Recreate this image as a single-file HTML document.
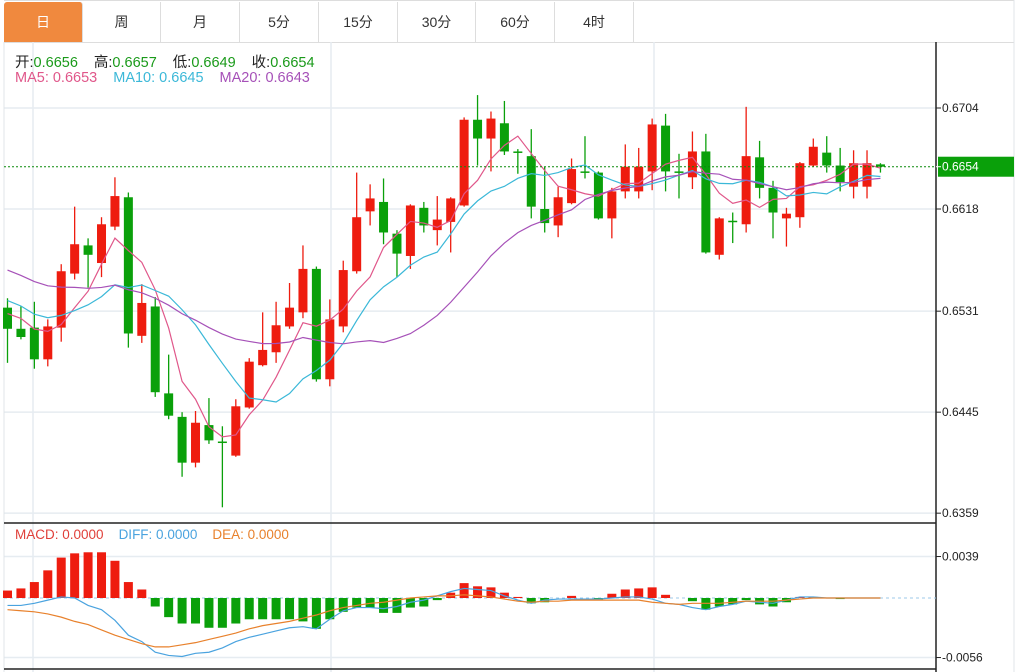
<!DOCTYPE html>
<html><head><meta charset="utf-8">
<style>
body{margin:0;width:1027px;height:672px;overflow:hidden;background:#fff;font-family:"Liberation Sans","Noto Sans CJK SC",sans-serif;}
#tabs{position:absolute;left:4px;top:0;width:1010px;height:41px;border-top:1px solid #ddd;border-bottom:1px solid #ddd;}
.tab{position:absolute;top:1px;height:40px;line-height:40px;text-align:center;font-size:14px;color:#333;border-right:1px solid #ddd;}
.tab.on{background:#f0893e;color:#fff;border-radius:3px 3px 0 0;}
svg{position:absolute;left:0;top:0;}
.gap{display:inline-block;width:16px;}
</style></head><body>
<div id="tabs">
<div class="tab on" style="left:0;width:78px">日</div>
<div class="tab" style="left:79px;width:77px">周</div>
<div class="tab" style="left:157px;width:78px">月</div>
<div class="tab" style="left:236px;width:78px">5分</div>
<div class="tab" style="left:315px;width:78px">15分</div>
<div class="tab" style="left:394px;width:77px">30分</div>
<div class="tab" style="left:472px;width:78px">60分</div>
<div class="tab" style="left:551px;width:78px">4时</div>
</div>
<svg id="chart" width="1027" height="672"></svg>
<script>
const opens=[6534,6516,6517,6490,6517,6563,6587,6572,6603,6628,6510,6535,6461,6441,6402,6434,6420,6408,6449,6485,6496,6518,6530,6567,6473,6518,6565,6616,6624,6597,6578,6619,6600,6607,6621,6694,6678,6691,6667,6663,6618,6604,6623,6650,6649,6610,6633,6633,6650,6689,6650,6645,6667,6579,6608,6605,6662,6636,6610,6611,6655,6666,6655,6637,6637,6656];
const closes=[6516,6509,6490,6518,6565,6588,6579,6605,6629,6512,6538,6462,6442,6402,6436,6421,6419,6450,6488,6498,6519,6534,6567,6473,6524,6566,6611,6627,6598,6580,6621,6604,6609,6627,6694,6678,6695,6667,6666,6620,6606,6628,6652,6649,6610,6633,6654,6654,6690,6650,6649,6667,6581,6610,6607,6663,6636,6615,6614,6657,6671,6655,6641,6657,6657,6654];
const highs=[6542,6535,6539,6524,6571,6620,6593,6611,6645,6632,6554,6543,6494,6445,6446,6457,6433,6456,6491,6530,6539,6555,6587,6569,6541,6574,6649,6639,6644,6600,6622,6624,6629,6628,6696,6715,6701,6710,6669,6686,6654,6637,6661,6680,6650,6636,6673,6670,6695,6699,6665,6684,6682,6611,6615,6705,6676,6642,6619,6658,6678,6680,6670,6668,6668,6657];
const lows=[6487,6507,6482,6484,6505,6558,6551,6560,6600,6500,6504,6458,6439,6390,6398,6418,6364,6407,6448,6484,6487,6516,6525,6471,6467,6513,6563,6604,6588,6560,6567,6598,6587,6581,6620,6655,6650,6664,6648,6610,6598,6594,6622,6644,6609,6593,6627,6627,6634,6633,6627,6635,6580,6575,6589,6598,6627,6593,6586,6602,6654,6649,6633,6627,6627,6649];
const priorCloses=[6600,6595,6590,6588,6592,6595,6590,6590,6590,6590,6555,6560,6548,6545,6547,6530,6535,6528,6536];
const priceTicks=["0.6704","0.6618","0.6531","0.6445","0.6359"];
const macdHist=[7,9,15,26,38,42,43,43,35,15,8,-8,-18,-24,-24,-28,-28,-24,-20,-20,-20,-20,-22,-29,-20,-13,-9,-9,-14,-14,-9,-8,-2,5,14,11,10,5,1,-5,-4,0,2,0,-2,4,8,9,10,3,0,-3,-11,-8,-6,-2,-6,-8,-4,1,1,0,-1,0,0,0];
const diffVals=[-7,-7,-5,-2,1,0,-7,-11,-21,-35,-41,-51,-54,-55,-52,-51,-47,-41,-37,-34,-31,-28,-27,-29,-20,-12,-9,-9,-10,-8,-4,-2,2,6,9,8,7,2,-2,-5,-2,-1,-1,-1,-1,0,1,1,-1,-5,-6,-9,-11,-8,-6,-3,-4,-5,-2,1,1,0,0,0,0,0];
const deaVals=[-11,-12,-13,-15,-18,-22,-25,-30,-35,-39,-43,-46,-46,-44,-42,-39,-36,-33,-29,-26,-24,-22,-19,-16,-12,-9,-7,-5,-4,-2,0,1,2,2,3,2,1,-1,-3,-4,-3,-3,-2,-2,-2,-2,-2,-2,-4,-5,-6,-5,-5,-5,-4,-3,-3,-3,-2,-1,0,0,0,0,0,0];
const macdTicks=["0.0039","-0.0056"];

const svg=document.getElementById('chart');
const NS='http://www.w3.org/2000/svg';
function mk(tag,at,parent){const e=document.createElementNS(NS,tag);for(const k in at)e.setAttribute(k,at[k]);(parent||svg).appendChild(e);return e;}
const xOf=i=>7.5+i*13.43;
const yP=p=>108+(0.6704-p/10000)*11744;
const yM=v=>598-(v/10000)*10632;

const grid=mk('g',{});


priceTicks.forEach(t=>{const y=yP(parseFloat(t)*10000);mk('line',{x1:4,x2:936,y1:y,y2:y,stroke:'#e6ecf1','stroke-width':1.5},grid);});
macdTicks.forEach(t=>{const y=yM(parseFloat(t)*10000);mk('line',{x1:4,x2:936,y1:y,y2:y,stroke:'#e6ecf1','stroke-width':1.5},grid);});
[33,331,654].forEach(x=>{mk('line',{x1:x,x2:x,y1:42,y2:672,stroke:'#e6ecf1','stroke-width':1.5},grid);});
mk('line',{x1:4,x2:4,y1:42,y2:672,stroke:'#e0e4e8'},grid);
mk('line',{x1:1014,x2:1014,y1:0,y2:672,stroke:'#e0e4e8'},grid);
mk('line',{x1:4,x2:936,y1:523,y2:523,stroke:'#222','stroke-width':1.5},grid);
mk('line',{x1:4,x2:936,y1:669,y2:669,stroke:'#222','stroke-width':1.5},grid);
mk('line',{x1:936,x2:936,y1:42,y2:672,stroke:'#222','stroke-width':1.5},grid);

const cg=mk('g',{});


opens.forEach((o,i)=>{
  const c=closes[i],up=c>o,col=up?'#ee1c0f':'#0aa00a',x=xOf(i);
  const g=mk('g',{},cg);
  
  
  mk('line',{x1:x,x2:x,y1:yP(highs[i]),y2:yP(lows[i]),stroke:col,'stroke-width':1.3},g);
  const t=yP(Math.max(o,c)),b=yP(Math.min(o,c));
  mk('rect',{x:x-4.5,y:t,width:9,height:Math.max(1.5,b-t),fill:col},g);
});

const all=priorCloses.concat(closes);
function ma(n){return closes.map((c,i)=>{let s=0;for(let k=0;k<n;k++)s+=all[i+priorCloses.length-k];return s/n;});}
[[5,'#e0578a','ma5-line'],[10,'#3bb8d8','ma10-line'],[20,'#a651b8','ma20-line']].forEach(([n,col,name])=>{
  const v=ma(n);
  const p=mk('polyline',{points:v.map((m,i)=>xOf(i)+','+yP(m)).join(' '),fill:'none',stroke:col,'stroke-width':1.2});
  
  
});

const lp=mk('line',{x1:4,x2:936,y1:yP(closes[closes.length-1]),y2:yP(closes[closes.length-1]),stroke:'#0a8a0a','stroke-dasharray':'2,2'});



priceTicks.forEach(t=>{const y=yP(parseFloat(t)*10000);
  mk('line',{x1:936,x2:941,y1:y,y2:y,stroke:'#222'});
  const e=mk('text',{x:942,y:y+4,'font-size':12,fill:'#222'});e.textContent=t;
  
  
});
const ly=yP(closes[closes.length-1]);
const lb=mk('rect',{x:938,y:ly-10,width:76,height:20,fill:'#0aa00a'});


mk('line',{x1:936,x2:941,y1:ly,y2:ly,stroke:'#fff'});
const lt=mk('text',{x:942,y:ly+4,'font-size':12,fill:'#fff'});lt.textContent=(closes[closes.length-1]/10000).toFixed(4);



mk('line',{x1:4,x2:936,y1:598,y2:598,stroke:'#9cc8e8','stroke-dasharray':'3,3'});
const mg=mk('g',{});


macdHist.forEach((v,i)=>{
  if(v===0)return;
  const y0=yM(0),y1=yM(v);
  const r=mk('rect',{x:xOf(i)-4.5,y:Math.min(y0,y1),width:9,height:Math.abs(y1-y0),fill:v>0?'#ee1c0f':'#0aa00a'},mg);
  
  
});
[[diffVals,'#4aa3df','diff-line'],[deaVals,'#e8812c','dea-line']].forEach(([arr,col,name])=>{
  const p=mk('polyline',{points:arr.map((v,i)=>xOf(i)+','+yM(v)).join(' '),fill:'none',stroke:col,'stroke-width':1.2});
  
  
});
macdTicks.forEach(t=>{const y=yM(parseFloat(t)*10000);
  mk('line',{x1:936,x2:941,y1:y,y2:y,stroke:'#222'});
  const e=mk('text',{x:942,y:y+4,'font-size':12,fill:'#222'});e.textContent=t;
  
  
});
</script>
<div style="position:absolute;left:15px;top:51px;font-size:14.5px;color:#222;white-space:nowrap">开:<span style="color:#1a9a1a">0.6656</span><span class="gap"></span>高:<span style="color:#1a9a1a">0.6657</span><span class="gap"></span>低:<span style="color:#1a9a1a">0.6649</span><span class="gap"></span>收:<span style="color:#1a9a1a">0.6654</span></div>
<div style="position:absolute;left:15px;top:70px;font-size:14.5px;white-space:nowrap"><span style="color:#e0578a">MA5: 0.6653</span><span class="gap"></span><span style="color:#3bb8d8">MA10: 0.6645</span><span class="gap"></span><span style="color:#a651b8">MA20: 0.6643</span></div>
<div style="position:absolute;left:15px;top:527px;font-size:13.5px;white-space:nowrap"><span style="color:#e0403a">MACD: 0.0000</span>&nbsp;&nbsp;&nbsp; <span style="color:#4aa3df">DIFF: 0.0000</span>&nbsp;&nbsp;&nbsp; <span style="color:#e8812c">DEA: 0.0000</span></div>
</body></html>
